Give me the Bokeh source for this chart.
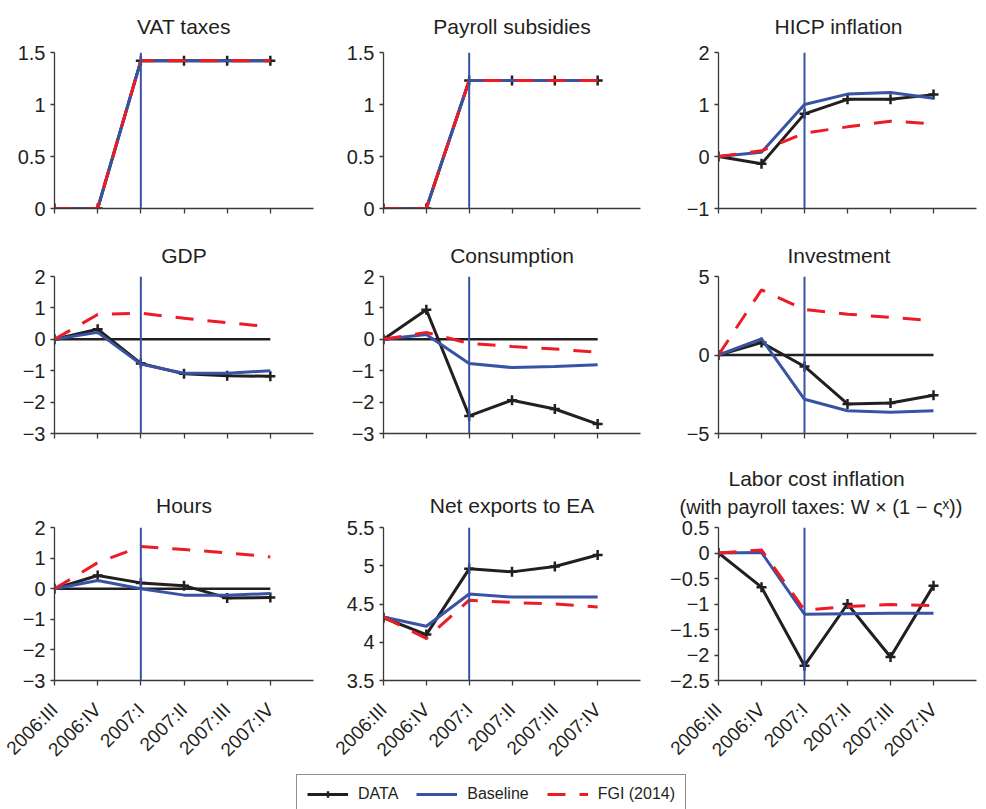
import math
from bokeh.plotting import figure
from bokeh.models import Range1d, FixedTicker, Span, Title, Legend, LegendItem
from bokeh.layouts import column, row
from bokeh.embed import file_html
from bokeh.resources import INLINE

# ---------------- data ----------------
quarters = ["2006:III", "2006:IV", "2007:I", "2007:II", "2007:III", "2007:IV"]
policy_quarter = "2007:I"

vat_data = [0, 0, 1.42, 1.42, 1.42, 1.42]
vat_base = [0, 0, 1.42, 1.42, 1.42, 1.42]
vat_fgi = [0, 0, 1.42, 1.42, 1.42, 1.42]
vat_ticks = [0, 0.5, 1, 1.5]

payroll_data = [0, 0, 1.23, 1.23, 1.23, 1.23]
payroll_base = [0, 0, 1.23, 1.23, 1.23, 1.23]
payroll_fgi = [0, 0, 1.23, 1.23, 1.23, 1.23]
payroll_ticks = [0, 0.5, 1, 1.5]

hicp_data = [0, -0.14, 0.82, 1.10, 1.10, 1.19]
hicp_base = [0, 0.08, 1.00, 1.20, 1.23, 1.12]
hicp_fgi = [0, 0.11, 0.45, 0.57, 0.68, 0.63]
hicp_ticks = [-1, 0, 1, 2]

gdp_data = [0, 0.32, -0.77, -1.10, -1.16, -1.18]
gdp_base = [0, 0.22, -0.79, -1.08, -1.08, -1.00]
gdp_fgi = [0, 0.79, 0.83, 0.67, 0.53, 0.40]
gdp_ticks = [-3, -2, -1, 0, 1, 2]

cons_data = [0, 0.94, -2.44, -1.94, -2.22, -2.70]
cons_base = [0, 0.15, -0.77, -0.90, -0.87, -0.81]
cons_fgi = [0, 0.22, -0.13, -0.23, -0.31, -0.41]
cons_ticks = [-3, -2, -1, 0, 1, 2]

inv_data = [0, 0.79, -0.73, -3.12, -3.06, -2.56]
inv_base = [0, 1.03, -2.82, -3.55, -3.65, -3.55]
inv_fgi = [0, 4.15, 2.90, 2.60, 2.40, 2.18]
inv_ticks = [-5, 0, 5]

hours_data = [0, 0.43, 0.19, 0.10, -0.30, -0.29]
hours_base = [0, 0.27, 0.00, -0.21, -0.21, -0.16]
hours_fgi = [0, 0.85, 1.38, 1.28, 1.17, 1.04]
hours_ticks = [-3, -2, -1, 0, 1, 2]

nx_data = [4.32, 4.10, 4.96, 4.92, 4.99, 5.14]
nx_base = [4.33, 4.21, 4.63, 4.59, 4.59, 4.59]
nx_fgi = [4.33, 4.05, 4.55, 4.52, 4.50, 4.46]
nx_ticks = [3.5, 4, 4.5, 5, 5.5]

labor_data = [0, -0.67, -2.21, -1.00, -2.04, -0.64]
labor_base = [0, 0.01, -1.20, -1.19, -1.18, -1.18]
labor_fgi = [0, 0.06, -1.12, -1.05, -1.01, -1.03]
labor_ticks = [-2.5, -2, -1.5, -1, -0.5, 0, 0.5]

series_names = ["DATA", "Baseline", "FGI (2014)"]

# ---------------- style ----------------
BLACK = "#231f20"
BLUE = "#3953a4"
RED = "#ed1c24"
FONT = "Liberation Sans"
AXIS_COLOR = "#3a3a3a"
DASH = "18 14"

col_width = [330, 326, 330]
col_left = [54, 53, 62]
col_frame = [259, 257, 258]
row_height = [230, 220, 320]
row_top = [52, 46, 77]
row_frame = [156, 157, 157]
row_standoff = [26, 19, 22]
row_valign = ["top", "bottom", "bottom"]


def fmt(v):
    return f"{v:g}".replace("-", "\u2212")


def title_obj(text, size, standoff, align="center", offset=0, valign="bottom"):
    return Title(text=text, align=align, offset=offset, text_font=FONT,
                 text_font_size=size, text_font_style="normal", vertical_align=valign,
                 text_color=BLACK, standoff=standoff)


def make_panel(r, c, title, data, base, fgi, ticks, zero_line=False,
               subtitle=None, align="center", offset=0):
    w = col_width[c]
    h = row_height[r]
    p = figure(width=w, height=h,
               x_range=Range1d(0, len(quarters)),
               y_range=Range1d(ticks[0], ticks[-1]),
               output_backend="svg", toolbar_location=None,
               min_border_left=col_left[c],
               min_border_right=w - col_left[c] - col_frame[c],
               min_border_top=row_top[r],
               min_border_bottom=h - row_top[r] - row_frame[r])
    p.outline_line_color = None
    p.xgrid.visible = False
    p.ygrid.visible = False

    xs = list(range(len(quarters)))
    if zero_line:
        p.line(xs, [0] * len(xs), line_color=BLACK, line_width=2.5)
    p.line(xs, data, line_color=BLACK, line_width=3)
    p.scatter(xs, data, marker="cross", size=10, line_width=2.5, line_color=BLACK)
    p.line(xs, base, line_color=BLUE, line_width=3)
    p.line(xs, fgi, line_color=RED, line_width=3, line_dash=DASH)
    p.add_layout(Span(location=quarters.index(policy_quarter), dimension="height",
                      line_color=BLUE, line_width=2))

    for ax in (p.xaxis[0], p.yaxis[0]):
        ax.axis_line_color = AXIS_COLOR
        ax.axis_line_width = 1.3
        ax.major_tick_line_color = AXIS_COLOR
        ax.major_tick_line_width = 1.3
        ax.major_tick_in = 0
        ax.minor_tick_line_color = None
        ax.major_label_text_font = FONT
        ax.major_label_text_color = BLACK

    p.xaxis.ticker = FixedTicker(ticks=xs)
    p.xaxis.major_tick_out = 5
    p.xaxis.major_label_text_font_size = "19px"
    if r < 2:
        p.xaxis.major_label_overrides = {i: "" for i in xs}
    else:
        p.xaxis.major_label_overrides = {i: q for i, q in enumerate(quarters)}
        p.xaxis.major_label_orientation = math.pi / 4
        p.xaxis.major_label_standoff = 21

    p.yaxis.ticker = FixedTicker(ticks=ticks)
    p.yaxis.major_tick_out = 4
    p.yaxis.major_label_standoff = 5
    p.yaxis.major_label_text_font_size = "20px"
    p.yaxis.major_label_overrides = {t: fmt(t) for t in ticks}

    if subtitle is None:
        p.add_layout(title_obj(title, "21px", row_standoff[r], align, offset, row_valign[r]), "above")
    else:
        p.add_layout(title_obj(subtitle, "20px", 20, "left", -39), "above")
        p.add_layout(title_obj(title, "21px", -13, "left", 10), "above")
    return p


p1 = make_panel(0, 0, "VAT taxes", vat_data, vat_base, vat_fgi, vat_ticks)
p2 = make_panel(0, 1, "Payroll subsidies", payroll_data, payroll_base, payroll_fgi, payroll_ticks)
p3 = make_panel(0, 2, "HICP inflation", hicp_data, hicp_base, hicp_fgi, hicp_ticks,
                align="left", offset=56)
p4 = make_panel(1, 0, "GDP", gdp_data, gdp_base, gdp_fgi, gdp_ticks, zero_line=True)
p5 = make_panel(1, 1, "Consumption", cons_data, cons_base, cons_fgi, cons_ticks, zero_line=True)
p6 = make_panel(1, 2, "Investment", inv_data, inv_base, inv_fgi, inv_ticks, zero_line=True,
                align="left", offset=69)
p7 = make_panel(2, 0, "Hours", hours_data, hours_base, hours_fgi, hours_ticks, zero_line=True)
p8 = make_panel(2, 1, "Net exports to EA", nx_data, nx_base, nx_fgi, nx_ticks)
p9 = make_panel(2, 2, "Labor cost inflation", labor_data, labor_base, labor_fgi, labor_ticks,
                subtitle="(with payroll taxes: W \u00d7 (1 \u2212 \u03c2\u02e3))")

# ---------------- legend strip ----------------
# proxy renderers reuse a series but sit outside this strip's visible range
xs_all = list(range(len(quarters)))
lg = figure(width=sum(col_width), height=39, output_backend="svg", toolbar_location=None,
            min_border=0, x_axis_type=None, y_axis_type=None,
            x_range=Range1d(len(quarters) + 10, len(quarters) + 11), y_range=Range1d(0, 1))
lg.outline_line_color = None
r_data = lg.line(xs_all, labor_data, line_color=BLACK, line_width=3)
r_data_m = lg.scatter(xs_all, labor_data, marker="cross", size=10, line_width=2.5, line_color=BLACK)
r_base = lg.line(xs_all, labor_base, line_color=BLUE, line_width=3)
r_fgi = lg.line(xs_all, labor_fgi, line_color=RED, line_width=3, line_dash=DASH)
legend = Legend(items=[LegendItem(label=series_names[0], renderers=[r_data, r_data_m]),
                       LegendItem(label=series_names[1], renderers=[r_base]),
                       LegendItem(label=series_names[2], renderers=[r_fgi])],
                orientation="horizontal", location=(296, -5),
                glyph_width=41, glyph_height=16, label_height=16, label_standoff=10,
                spacing=18, padding=10, margin=0,
                label_text_font=FONT, label_text_font_size="16px", label_text_color=BLACK,
                border_line_color=BLACK, border_line_width=1.2, background_fill_alpha=1)
lg.add_layout(legend)

layout = column(row(p1, p2, p3), row(p4, p5, p6), row(p7, p8, p9), lg)

with open("out.html", "w") as f:
    f.write(file_html(layout, INLINE))
